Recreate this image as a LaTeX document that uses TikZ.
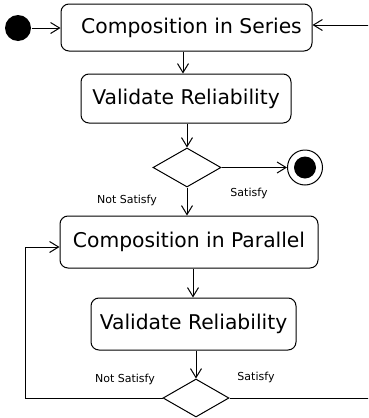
\documentclass[tikz,border=0pt]{standalone}
\usepackage{fontspec}
\setmainfont{DejaVu Sans}
\usetikzlibrary{arrows.meta,shapes.geometric}
\begin{document}
\begin{tikzpicture}[x=1pt,y=-1pt,line width=1pt,
  act/.style={draw,rounded corners=8pt,inner sep=0pt,font=\fontsize{20.3}{24}\selectfont},
  dec/.style={draw,diamond,inner sep=0pt,minimum width=68pt,minimum height=39pt},
  lbl/.style={font=\fontsize{11}{12}\selectfont,inner sep=0pt},
  arr/.style={-{Straight Barb[length=9pt,width=11pt,line width=1pt]}}]
\useasboundingbox (0,0) rectangle (368,418);
\clip (0,0) rectangle (368,418);
\node[circle,fill=black,inner sep=0pt,minimum size=26pt] (start) at (18,28) {};
\node[act,minimum width=251pt,minimum height=47pt] (cs) at (186.5,27.5) {\hspace*{10pt}Composition in Series};
\node[act,minimum width=210pt,minimum height=49pt] (v1) at (186,98.5) {Validate Reliability};
\node[dec] (d1) at (187,167.5) {};
\node[circle,draw,inner sep=0pt,minimum size=35pt] (end) at (305,167.5) {};
\node[circle,fill=black,inner sep=0pt,minimum size=22pt] (endin) at (end) {};
\node[act,minimum width=258pt,minimum height=52pt] (cp) at (189,242) {Composition in Parallel};
\node[act,minimum width=205pt,minimum height=52pt] (v2) at (193.5,324) {Validate Reliability};
\node[dec,minimum width=66pt,minimum height=38pt] (d2) at (196,398) {};
\node[lbl] (ns1) at (127,200) {Not Satisfy};
\node[lbl] (s1) at (249,193) {Satisfy};
\node[lbl] (ns2) at (125,379) {Not Satisfy};
\node[lbl] (s2) at (256,377) {Satisfy};
\coordinate (r1) at (380,398);
\coordinate (r2) at (380,25);
\coordinate (l1) at (25,398);
\coordinate (l2) at (25,247);
\draw[arr] (start) -- (cs.west |- start);
\draw[arr] (d2.east) -- (r1) -- (r2) -- (r2 -| cs.east);
\draw[arr] ([xshift=-3.5pt]cs.south) -- ([xshift=-3.5pt]cs.south |- v1.north);
\draw[arr] (d1 |- v1.south) -- (d1.north);
\draw[arr] (d1.east) -- (end.west);
\draw[arr] (d1.south) -- (d1 |- cp.north);
\draw[arr] ([xshift=-0.5pt]v2.north |- cp.south) -- ([xshift=-0.5pt]v2.north);
\draw[arr] (d2 |- v2.south) -- (d2.north);
\draw[arr] (d2.west) -- (l1) -- (l2) -- (l2 -| cp.west);
\end{tikzpicture}
\end{document}
